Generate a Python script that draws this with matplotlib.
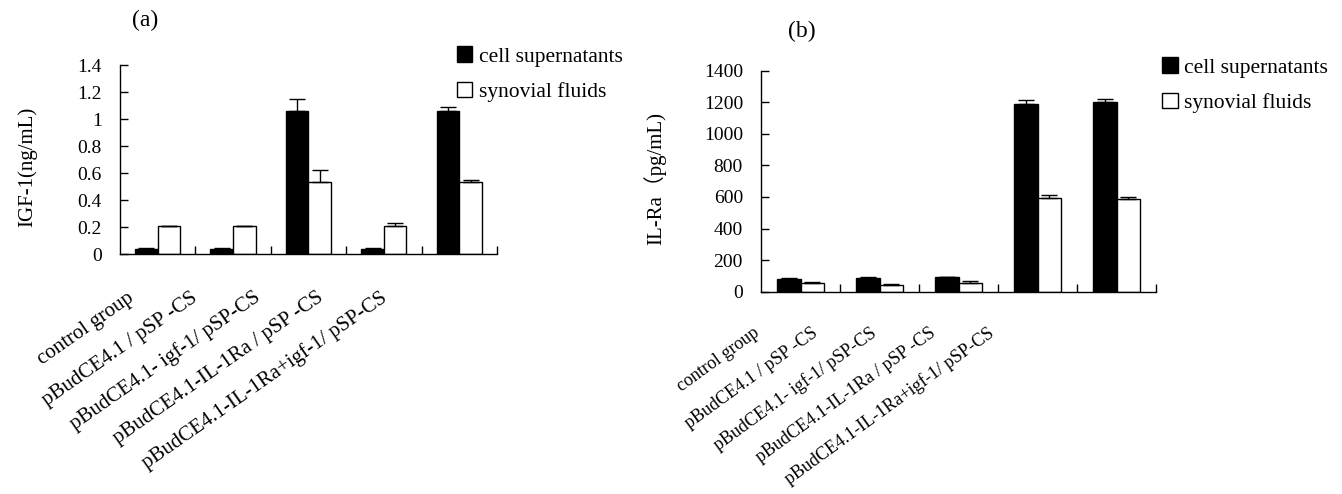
import matplotlib
matplotlib.use('Agg')
import matplotlib.pyplot as plt
import numpy as np

plt.rcParams['font.family'] = ['Liberation Serif', 'Noto Sans CJK SC', 'DejaVu Sans']

# data
groups = ['control group', 'pBudCE4.1 / pSP -CS', 'pBudCE4.1- igf-1/ pSP-CS',
          'pBudCE4.1-IL-1Ra / pSP -CS', 'pBudCE4.1-IL-1Ra+igf-1/ pSP-CS']
series = ['cell supernatants', 'synovial fluids']

igf_cell = [0.04, 0.04, 1.06, 0.04, 1.06]
igf_cell_err = [0.005, 0.005, 0.09, 0.005, 0.03]
igf_syn = [0.21, 0.21, 0.53, 0.21, 0.53]
igf_syn_err = [0.0, 0.0, 0.09, 0.02, 0.015]

ilra_cell = [80, 88, 95, 1191, 1199]
ilra_cell_err = [8, 5, 0, 25, 23]
ilra_syn = [52, 42, 52, 593, 585]
ilra_syn_err = [7, 4, 15, 17, 15]

fig = plt.figure(figsize=(13.42, 4.94), dpi=100)
ax_a = fig.add_axes([0.0894, 0.4858, 0.2809, 0.3826])
ax_b = fig.add_axes([0.5671, 0.4095, 0.2943, 0.4474])

def draw(ax, cell, cell_err, syn, syn_err, ymax, ystep, ylabel, lab_pos, lab_y, rot, lab_fs):
    x = np.arange(len(groups))
    w = 0.3
    n = len(groups)
    ax.bar(x - w / 2, cell, w, color='black', edgecolor='black', linewidth=1,
           yerr=[np.zeros(n), cell_err], capsize=6,
           error_kw=dict(ecolor='black', elinewidth=1, capthick=1), label=series[0])
    ax.bar(x + w / 2, syn, w, color='white', edgecolor='black', linewidth=1,
           yerr=[np.zeros(n), syn_err], capsize=6,
           error_kw=dict(ecolor='black', elinewidth=1, capthick=1), label=series[1])
    ax.set_xlim(-0.5, n - 0.5)
    ax.set_ylim(0, ymax)
    ax.set_yticks(np.arange(0, ymax + ystep / 2, ystep))
    if ystep < 1:
        ax.set_yticklabels(['%g' % round(v, 1) for v in np.arange(0, ymax + ystep / 2, ystep)])
    ax.set_xticks([])
    ax.set_xticks(np.arange(0.5, n, 1), minor=True)
    ax.tick_params(axis='x', which='minor', direction='in', length=6, width=1)
    ax.tick_params(axis='y', direction='in', length=6, width=1, pad=13, labelsize=14)
    for s in ['top', 'right']:
        ax.spines[s].set_visible(False)
    for s in ['left', 'bottom']:
        ax.spines[s].set_linewidth(1)
    ax.set_ylabel(ylabel, fontsize=15)
    for i, g in enumerate(groups):
        ax.text(lab_pos[0] + lab_pos[1] * i, lab_y, g, transform=ax.get_xaxis_transform(),
                rotation=rot, rotation_mode='anchor', ha='right', va='center', fontsize=lab_fs)

draw(ax_a, igf_cell, igf_cell_err, igf_syn, igf_syn_err, 1.4, 0.2,
     'IGF-1(ng/mL)', (-0.34, 0.84), -0.222, 35, 15)
ax_a.yaxis.set_label_coords(-0.22, 0.46)

draw(ax_b, ilra_cell, ilra_cell_err, ilra_syn, ilra_syn_err, 1400, 200,
     'IL-Ra\uff08pg/mL)', (-0.55, 0.745), -0.18, 36, 13)
ax_b.yaxis.set_label_coords(-0.24, 0.514)

for ax, anchor in [(ax_a, (0.3405, 0.906)), (ax_b, (0.8659, 0.884))]:
    h, l = ax.get_legend_handles_labels()
    fig.legend(h, l, loc='upper left', bbox_to_anchor=anchor, frameon=False,
               fontsize=15.5, handlelength=0.72, handleheight=0.72, handletextpad=0.3,
               labelspacing=0.72, borderpad=0, borderaxespad=0)

fig.text(145 / 1342, 1 - 20 / 494, '(a)', ha='center', va='center', fontsize=17)
fig.text(802 / 1342, 1 - 31 / 494, '(b)', ha='center', va='center', fontsize=17)

fig.savefig('out.png', dpi=100)
